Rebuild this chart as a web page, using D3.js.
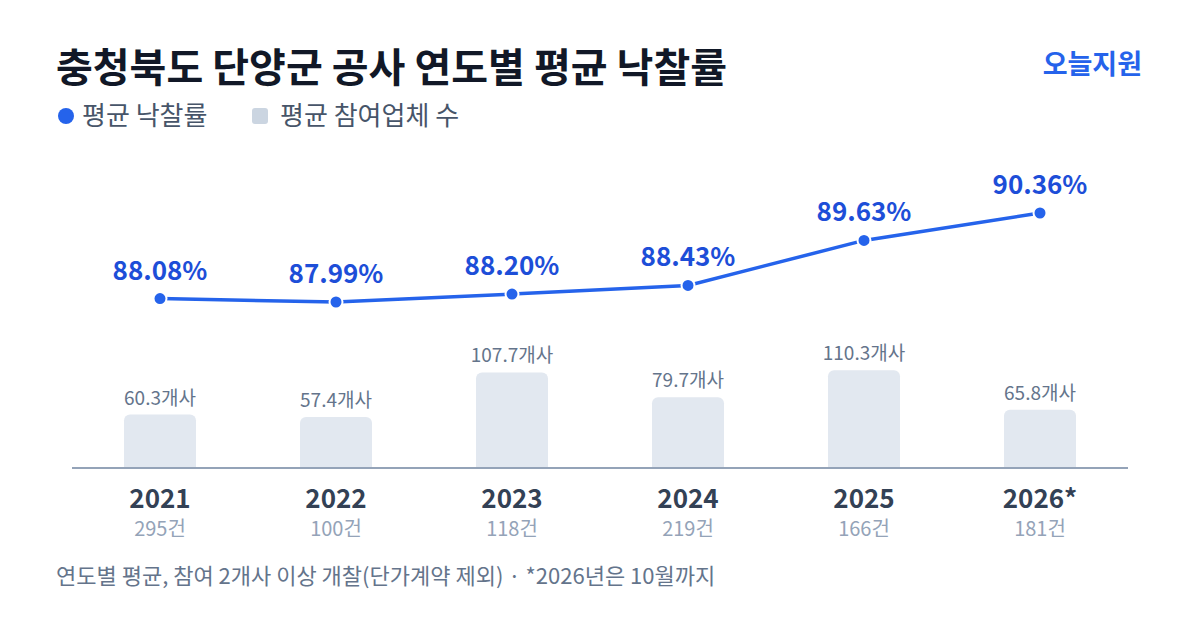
<!DOCTYPE html>
<html>
<head>
<meta charset="utf-8">
<script src="https://cdn.jsdelivr.net/npm/d3@7"></script>
<style>
  html, body { margin: 0; padding: 0; background: #fff; }
  svg { display: block; font-family: "Noto Sans CJK KR", "Noto Sans", sans-serif; }
</style>
</head>
<body>
<svg id="chart" width="1200" height="630"></svg>
<script>
var years = ["2021", "2022", "2023", "2024", "2025", "2026*"];
var rates = [88.08, 87.99, 88.20, 88.43, 89.63, 90.36];
var bidders = [60.3, 57.4, 107.7, 79.7, 110.3, 65.8];
var counts = [295, 100, 118, 219, 166, 181];

!(function(){
    "use strict";

    var svg = d3.select("#chart");
    var blue = "#2563eb";
    var base = 468;

    var data = years.map(function(y, i) {
        return {year: y, rate: rates[i], bid: bidders[i], n: counts[i]};
    });

    // title + brand
    svg.append("text")
        .attr("x", 56).attr("y", 82)
        .attr("font-size", 40).attr("font-weight", 700)
        .attr("fill", "#111827")
        .text("충청북도 단양군 공사 연도별 평균 낙찰률");

    svg.append("text")
        .attr("x", 1142).attr("y", 74)
        .attr("text-anchor", "end")
        .attr("font-size", 27).attr("font-weight", 700)
        .attr("fill", blue)
        .text("오늘지원");

    // legend
    var lg = svg.append("g");
    lg.append("circle").attr("cx", 66).attr("cy", 116).attr("r", 8).attr("fill", blue);
    lg.append("text").attr("x", 82).attr("y", 125)
        .attr("font-size", 26).attr("fill", "#475569").text("평균 낙찰률");
    lg.append("rect").attr("x", 252).attr("y", 108).attr("width", 16).attr("height", 16)
        .attr("rx", 3).attr("fill", "#cbd5e1");
    lg.append("text").attr("x", 280).attr("y", 125)
        .attr("font-size", 26).attr("fill", "#475569").text("평균 참여업체 수");

    // scales
    var x = d3.scaleBand().domain(years).range([72, 1128]);
    var barW = 72;
    var yBar = d3.scaleLinear().domain([0, 124]).range([base, base - 110]);
    var yRate = d3.scaleLinear().domain(d3.extent(rates)).range([302, 213]);
    var cx = function(d) { return x(d.year) + x.bandwidth() / 2; };

    // bars
    svg.append("g").selectAll("rect")
        .data(data).enter().append("rect")
        .attr("x", function(d) { return cx(d) - barW / 2; })
        .attr("y", function(d) { return yBar(d.bid); })
        .attr("width", barW)
        .attr("height", function(d) { return base - yBar(d.bid) + 6; })
        .attr("rx", 6)
        .attr("fill", "#e2e8f0");

    svg.append("g").selectAll("text")
        .data(data).enter().append("text")
        .attr("x", cx)
        .attr("y", function(d) { return yBar(d.bid) - 10; })
        .attr("text-anchor", "middle")
        .attr("font-size", 19).attr("fill", "#64748b")
        .text(function(d) { return d.bid.toFixed(1) + "개사"; });

    // white cover under baseline so the rounded bottoms stay hidden
    svg.append("rect").attr("x", 72).attr("y", base).attr("width", 1056).attr("height", 10).attr("fill", "#fff");

    // baseline
    svg.append("line")
        .attr("x1", 72).attr("x2", 1128)
        .attr("y1", base).attr("y2", base)
        .attr("stroke", "#94a3b8").attr("stroke-width", 2);

    // x labels
    var xl = svg.append("g").selectAll("g")
        .data(data).enter().append("g");
    xl.append("text")
        .attr("x", cx).attr("y", 508)
        .attr("text-anchor", "middle")
        .attr("font-size", 26).attr("font-weight", 700).attr("fill", "#334155")
        .text(function(d) { return d.year; });
    xl.append("text")
        .attr("x", cx).attr("y", 536)
        .attr("text-anchor", "middle")
        .attr("font-size", 20).attr("fill", "#94a3b8")
        .text(function(d) { return d.n + "건"; });

    // rate line
    var line = d3.line()
        .x(cx)
        .y(function(d) { return yRate(d.rate); });

    svg.append("path")
        .datum(data)
        .attr("d", line)
        .attr("fill", "none")
        .attr("stroke", blue)
        .attr("stroke-width", 3.5);

    svg.append("g").selectAll("circle")
        .data(data).enter().append("circle")
        .attr("cx", cx)
        .attr("cy", function(d) { return yRate(d.rate); })
        .attr("r", 6.5)
        .attr("fill", blue)
        .attr("stroke", "#fff").attr("stroke-width", 2);

    svg.append("g").selectAll("text")
        .data(data).enter().append("text")
        .attr("x", cx)
        .attr("y", function(d) { return yRate(d.rate) - 19; })
        .attr("text-anchor", "middle")
        .attr("font-size", 26).attr("font-weight", 700).attr("fill", "#1d4ed8")
        .text(function(d) { return d.rate.toFixed(2) + "%"; });

    // footnote
    svg.append("text")
        .attr("x", 56).attr("y", 584)
        .attr("font-size", 22).attr("fill", "#64748b")
        .text("연도별 평균, 참여 2개사 이상 개찰(단가계약 제외) · *2026년은 10월까지");
}());
</script>
</body>
</html>
